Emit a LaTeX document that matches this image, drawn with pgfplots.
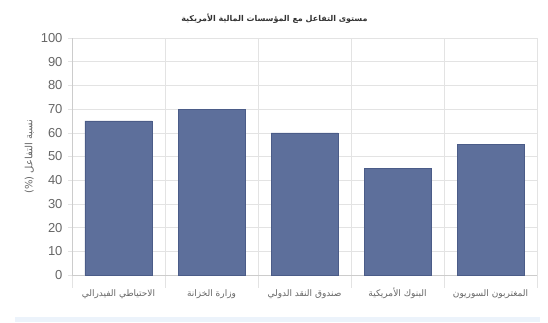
\documentclass[border=0pt]{standalone}
\usepackage{pgfplots}
\pgfplotsset{compat=1.18}
\usepackage{fontspec}
\setmainfont{Liberation Sans}
\newfontfamily\arabicfont[Script=Arabic]{DejaVu Sans}
\TeXXeTstate=1
\definecolor{barfill}{HTML}{5D6F9B}
\definecolor{barline}{HTML}{4B5C88}
\definecolor{gridc}{HTML}{E3E3E3}
\definecolor{axisc}{HTML}{CCCCCC}
\definecolor{tickc}{HTML}{666666}
\definecolor{titlec}{HTML}{333333}
\definecolor{stripc}{HTML}{ECF3FB}
\pgfplotstableread{
x val
0 65
1 70
2 60
3 45
4 55
}\datatable
\begin{document}
\begin{tikzpicture}
\begin{axis}[
  name=ax,
  scale only axis, width=465pt, height=237pt,
  ymin=0, ymax=100, ytick={0,10,...,100},
  xmin=-0.5, xmax=4.5,
  xtick={0,...,4},
  xticklabels={
    {\arabicfont\beginR الاحتياطي الفيدرالي\endR},
    {\arabicfont\beginR وزارة الخزانة\endR},
    {\arabicfont\beginR صندوق النقد الدولي\endR},
    {\arabicfont\beginR البنوك الأمريكية\endR},
    {\arabicfont\beginR المغتربون السوريون\endR}},
  minor xtick={-0.5,0.5,...,4.5},
  xminorgrids, ymajorgrids,
  minor grid style={draw=gridc, line width=0.6pt},
  major grid style={draw=gridc, line width=0.6pt},
  axis lines*=left,
  axis line style={draw=axisc, line width=0.7pt},
  tick align=outside,
  major tick length=4pt,
  minor tick length=13pt,
  x tick style={draw=none},
  minor x tick style={draw=gridc, line width=0.6pt},
  y tick style={draw=gridc, line width=0.6pt},
  /pgf/number format/assume math mode=true,
  yticklabel style={font=\fontsize{13}{15}\selectfont, text=tickc, xshift=-2pt},
  xticklabel style={font=\fontsize{9}{11}\selectfont, text=tickc, anchor=north, text height=8pt, text depth=3pt, yshift=-6pt},
  ylabel={\arabicfont\beginR نسبة التفاعل (\%)\endR},
  ylabel style={font=\fontsize{10}{12}\selectfont, text=tickc},
  title={\arabicfont\bfseries\beginR مستوى التفاعل مع المؤسسات المالية الأمريكية\endR},
  title style={font=\fontsize{8}{10}\selectfont, text=titlec, yshift=5pt, xshift=-30pt},
]
\addplot[ybar, bar width=67pt, fill=barfill, draw=barline, line width=0.6pt] table[x=x, y=val] {\datatable};
\end{axis}
\fill[stripc] ([xshift=-57pt,yshift=-47pt]ax.south west) rectangle ([xshift=3pt,yshift=-42pt]ax.south east);
\pgfresetboundingbox
\path[use as bounding box] ([xshift=-72pt,yshift=-47pt]ax.south west) rectangle ([xshift=11pt,yshift=38pt]ax.north east);
\end{tikzpicture}
\end{document}
